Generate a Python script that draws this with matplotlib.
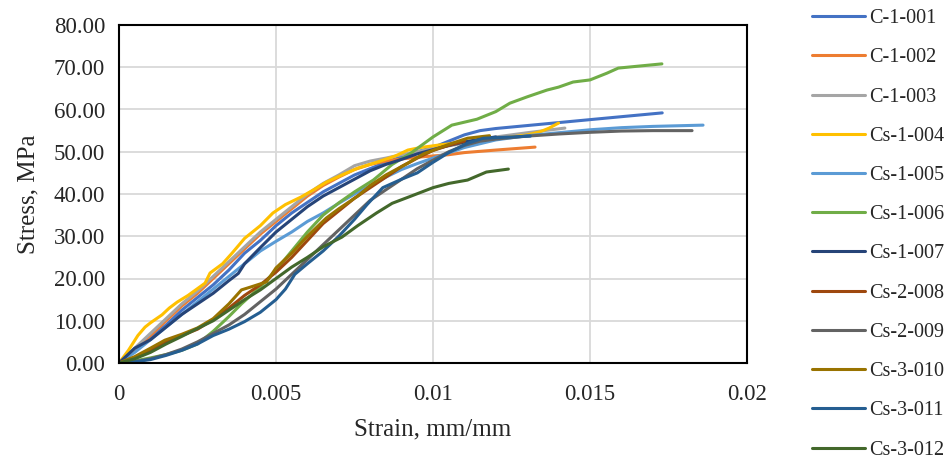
import matplotlib
matplotlib.use("Agg")
import matplotlib.pyplot as plt
from matplotlib.ticker import FuncFormatter

plt.rcParams['font.family'] = ['Liberation Serif', 'DejaVu Serif']

labels = ["C-1-001", "C-1-002", "C-1-003", "Cs-1-004", "Cs-1-005", "Cs-1-006",
          "Cs-1-007", "Cs-2-008", "Cs-2-009", "Cs-3-010", "Cs-3-011", "Cs-3-012"]
colors = ["#4472C4", "#ED7D31", "#A5A5A5", "#FFC000", "#5B9BD5", "#70AD47",
          "#264478", "#9E480E", "#636363", "#997300", "#255E91", "#43682B"]

c1001_x = [0, 0.0005, 0.001, 0.0015, 0.002, 0.0025, 0.003, 0.0035, 0.004, 0.0045, 0.005, 0.0055, 0.006, 0.0065, 0.007, 0.0075, 0.008, 0.0085, 0.009, 0.0095, 0.01, 0.0105, 0.011, 0.0115, 0.012, 0.013, 0.014, 0.015, 0.016, 0.0173]
c1001_y = [0, 3, 6, 9, 12.5, 15.5, 18.5, 22, 26, 29, 32.5, 35.5, 38, 40.5, 42.5, 44.5, 46, 47.5, 48.8, 50, 51, 52.5, 54, 55, 55.5, 56.2, 56.9, 57.6, 58.3, 59.2]

c1002_x = [0, 0.0005, 0.001, 0.0015, 0.002, 0.0025, 0.003, 0.0035, 0.004, 0.0045, 0.005, 0.0055, 0.006, 0.0065, 0.007, 0.0075, 0.008, 0.0085, 0.009, 0.0095, 0.01, 0.0105, 0.011, 0.012, 0.01325]
c1002_y = [0, 3, 6.5, 10, 13.5, 16.5, 20, 23.5, 27, 30.5, 33.5, 36.5, 39.5, 42, 44, 45.8, 47, 47.8, 48.3, 48.7, 49, 49.3, 49.8, 50.4, 51.1]

c1003_x = [0, 0.0005, 0.001, 0.0015, 0.002, 0.0025, 0.003, 0.0035, 0.004, 0.0045, 0.005, 0.0055, 0.006, 0.0065, 0.007, 0.0075, 0.008, 0.0085, 0.009, 0.0095, 0.01, 0.011, 0.012, 0.013, 0.0142]
c1003_y = [0, 3.5, 7, 10.5, 14, 17, 20.5, 24, 27.5, 31, 34, 37, 40, 42.5, 44.5, 46.7, 47.8, 48.5, 49.3, 50, 50.8, 52, 53.5, 54.5, 55.6]

cs1004_x = [0, 0.0003, 0.0006, 0.00083, 0.001, 0.00137, 0.0016, 0.00185, 0.0022, 0.00274, 0.0029, 0.0033, 0.0036, 0.004, 0.0045, 0.0049, 0.0053, 0.0058, 0.0062, 0.0066, 0.0071, 0.0076, 0.0082, 0.0088, 0.0092, 0.0096, 0.0102, 0.011, 0.012, 0.013, 0.0134, 0.0137, 0.0140]
cs1004_y = [0, 3, 6.5, 8.5, 9.5, 11.4, 13, 14.4, 16, 18.9, 21.3, 23.5, 26, 29.5, 32.5, 35.5, 37.5, 39.3, 41, 42.8, 44.5, 46.1, 47.5, 49, 50.4, 51, 51.6, 52.3, 53, 54, 54.7, 55.6, 56.8]

cs1005_x = [0, 0.0005, 0.001, 0.0015, 0.002, 0.0025, 0.003, 0.0035, 0.004, 0.0045, 0.005, 0.0055, 0.006, 0.0065, 0.007, 0.0075, 0.008, 0.0085, 0.009, 0.0095, 0.01, 0.011, 0.012, 0.013, 0.014, 0.015, 0.016, 0.017, 0.0186]
cs1005_y = [0, 2.5, 5.5, 8.5, 11.5, 14.5, 17.5, 20.5, 23.5, 26.5, 28.8, 31, 33.5, 35.5, 37.8, 40, 42, 44, 45.8, 47.2, 48.5, 51, 52.8, 53.8, 54.5, 55.2, 55.7, 56, 56.3]

cs1006_x = [0, 0.0005, 0.001, 0.0015, 0.002, 0.0025, 0.003, 0.0035, 0.0039, 0.0045, 0.005, 0.0055, 0.006, 0.0065, 0.007, 0.0075, 0.0081, 0.0087, 0.0093, 0.01, 0.0106, 0.0114, 0.012, 0.01245, 0.013, 0.01363, 0.0140, 0.01446, 0.015, 0.01554, 0.0159, 0.01729]
cs1006_y = [0, 0.5, 1.2, 2, 3, 4.5, 7.5, 11, 14, 18, 22, 26.5, 31, 35, 37.9, 40.5, 43.3, 47, 49.7, 53.5, 56.3, 57.7, 59.5, 61.5, 63, 64.6, 65.3, 66.5, 67, 68.6, 69.8, 70.8]

cs1007_x = [0, 0.0005, 0.001, 0.0015, 0.002, 0.0025, 0.003, 0.0035, 0.0038, 0.0040, 0.0045, 0.005, 0.0055, 0.006, 0.0065, 0.007, 0.0075, 0.008, 0.0085, 0.009, 0.0095, 0.01, 0.0105, 0.011, 0.0115, 0.012]
cs1007_y = [0, 3.5, 5.5, 8.5, 11.5, 14, 16.5, 19.5, 21.2, 23.5, 27.3, 31, 34, 37, 39.5, 41.5, 43.5, 45.5, 47, 48.2, 49.5, 50.5, 51.5, 52.3, 53, 53.5]

cs2008_x = [0, 0.0005, 0.001, 0.0015, 0.002, 0.0025, 0.003, 0.0035, 0.004, 0.0045, 0.005, 0.0055, 0.006, 0.0065, 0.007, 0.0075, 0.008, 0.0085, 0.009, 0.0095, 0.01, 0.0105, 0.011]
cs2008_y = [0, 1.3, 3, 5, 6.5, 8, 10.3, 13, 16, 18.5, 21.5, 25, 29, 33, 36, 39, 41.5, 44, 46.5, 48.5, 50.3, 51.5, 52.5]

cs2009_x = [0, 0.0005, 0.001, 0.0015, 0.002, 0.0025, 0.003, 0.0035, 0.004, 0.0045, 0.005, 0.0055, 0.006, 0.0065, 0.007, 0.0075, 0.008, 0.0085, 0.009, 0.0095, 0.01, 0.0105, 0.011, 0.0115, 0.012, 0.013, 0.014, 0.015, 0.016, 0.017, 0.01825]
cs2009_y = [0, 0.3, 1, 2, 3.3, 5, 7, 9, 11.5, 14.5, 17.5, 21, 24.5, 28, 31.5, 35, 38.5, 41, 43.5, 46, 48, 50, 51.5, 52.5, 53, 53.7, 54.2, 54.6, 54.9, 55, 55]

cs3010_x = [0, 0.0005, 0.001, 0.00146, 0.002, 0.0025, 0.003, 0.0035, 0.0039, 0.0042, 0.0047, 0.005, 0.0055, 0.006, 0.0066, 0.007, 0.0076, 0.008, 0.0085, 0.0092, 0.0097, 0.0102, 0.0106, 0.0111, 0.0118]
cs3010_y = [0, 1.5, 3.5, 5.4, 6.8, 8.3, 10.5, 14, 17.3, 18, 19.2, 22.5, 26, 30, 34.3, 36.5, 39.5, 42, 44.5, 47.3, 49.5, 50.9, 52, 53.2, 53.8]

cs3011_x = [0, 0.0005, 0.001, 0.0015, 0.002, 0.0025, 0.003, 0.0035, 0.004, 0.0045, 0.005, 0.0053, 0.0056, 0.006, 0.0065, 0.007, 0.0075, 0.0079, 0.0084, 0.009, 0.0095, 0.01, 0.0105, 0.0111, 0.0116, 0.0131]
cs3011_y = [0, 0.3, 0.8, 1.8, 3, 4.5, 6.5, 8, 9.8, 12, 15, 17.5, 21, 23.5, 26.5, 30, 34, 37.5, 41.5, 43.5, 45, 47.5, 49.8, 52, 53.2, 53.7]

cs3012_x = [0, 0.0005, 0.001, 0.0015, 0.002, 0.0024, 0.003, 0.0035, 0.004, 0.0045, 0.005, 0.0055, 0.006, 0.0065, 0.0071, 0.0076, 0.0082, 0.0087, 0.0093, 0.01, 0.0105, 0.0111, 0.0117, 0.0124]
cs3012_y = [0, 1, 2.5, 4.5, 6.3, 7.8, 10, 12.5, 15, 17.3, 20, 22.7, 25, 27.5, 29.8, 32.5, 35.5, 37.8, 39.5, 41.5, 42.5, 43.3, 45.2, 45.9]

series_x = [c1001_x, c1002_x, c1003_x, cs1004_x, cs1005_x, cs1006_x,
            cs1007_x, cs2008_x, cs2009_x, cs3010_x, cs3011_x, cs3012_x]
series_y = [c1001_y, c1002_y, c1003_y, cs1004_y, cs1005_y, cs1006_y,
            cs1007_y, cs2008_y, cs2009_y, cs3010_y, cs3011_y, cs3012_y]

x_ticks = [0, 0.005, 0.01, 0.015, 0.02]
x_ticklabels = ["0", "0.005", "0.01", "0.015", "0.02"]
y_ticks = [0, 10, 20, 30, 40, 50, 60, 70, 80]

fig = plt.figure(figsize=(9.52, 4.65), dpi=100)
ax = fig.add_axes([119/952, 1 - 363/465, (747-119)/952, (363-25)/465])

for xs, ys, lab, col in zip(series_x, series_y, labels, colors):
    ax.plot(xs, ys, color=col, lw=2.2, label=lab, solid_joinstyle='round', solid_capstyle='round')

ax.set_xlim(0, 0.02)
ax.set_ylim(0, 80)
ax.set_xticks(x_ticks)
ax.set_xticklabels(x_ticklabels)
ax.set_yticks(y_ticks)
ax.yaxis.set_major_formatter(FuncFormatter(lambda v, p: f"{v:.2f}"))
ax.grid(True, color="#D9D9D9", lw=1.3)
ax.set_axisbelow(True)
ax.tick_params(length=0, labelsize=16.5, colors="#262626")
ax.tick_params(axis='y', pad=10)
ax.tick_params(axis='x', pad=15)
for s in ax.spines.values():
    s.set_color("black")
    s.set_linewidth(1.5)

ax.set_xlabel("Strain, mm/mm", fontsize=18, color="#262626", labelpad=10)
ax.set_ylabel("Stress, MPa", fontsize=18, color="#262626", labelpad=10)

leg = fig.legend(loc="upper left", bbox_to_anchor=(804/952, 0.998), frameon=False,
                 fontsize=14.5, handlelength=2.65, handletextpad=0.2,
                 labelspacing=1.0, borderaxespad=0)
for t in leg.get_texts():
    t.set_color("#262626")

fig.savefig("out.png", dpi=100)
